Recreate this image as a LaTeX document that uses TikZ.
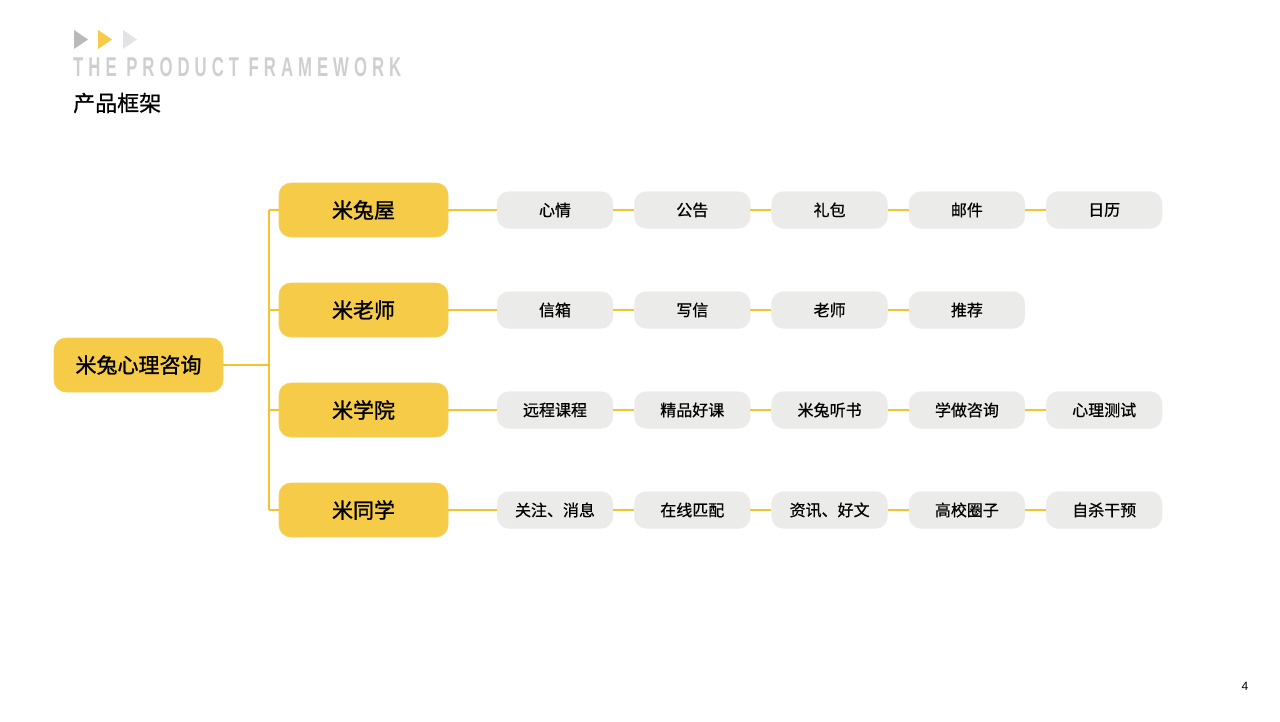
\documentclass[tikz,border=0pt]{standalone}
\usepackage{fontspec}
\usepackage{graphicx}
\newfontfamily\cjk{Noto Sans CJK SC}
\newfontfamily\cjkm[FakeBold=0.6]{Noto Sans CJK SC}
\newfontfamily\cjkb[FakeBold=1.3]{Noto Sans CJK SC}
\newfontfamily\latinb{Liberation Sans}
\newfontfamily\enfont[LetterSpace=30]{Liberation Sans}
\definecolor{myyellow}{HTML}{F5CB47}
\definecolor{linecol}{HTML}{F3C330}
\definecolor{leafgray}{HTML}{EBEBEA}
\definecolor{headgray}{HTML}{CFCFCF}
\tikzset{
  rootbox/.style={draw=linecol!80, line width=0.6pt, fill=myyellow, rounded corners=12pt, minimum width=169pt, minimum height=54pt, font=\cjkb\fontsize{21}{21}\selectfont, inner sep=0pt},
  leafbox/.style={fill=leafgray, draw=leafgray!90!black!40, line width=0.3pt, rounded corners=12pt, minimum width=116pt, minimum height=37pt, font=\cjkm\fontsize{16}{16}\selectfont, inner sep=0pt},
  link/.style={draw=linecol, line width=2pt}
}
\begin{document}
\begin{tikzpicture}[x=1pt,y=-1pt]
\useasboundingbox (0,0) rectangle (1280,721);
% header triangles
\fill[gray!55] (74,30) -- (88,39.5) -- (74,49) -- cycle;
\fill[myyellow] (98,30) -- (112,39.5) -- (98,49) -- cycle;
\fill[gray!22] (123,30) -- (137,39.5) -- (123,49) -- cycle;
\node[anchor=west, inner sep=0pt, text=headgray] (en) at (73,67.5) {\resizebox{328pt}{19pt}{\enfont\bfseries THE PRODUCT FRAMEWORK}};
\node[anchor=west, inner sep=0pt, font=\cjkm\fontsize{22}{22}\selectfont] (cn) at (73,103) {产品框架};
\node[inner sep=0pt, font=\latinb\fontsize{12}{12}\selectfont] (pg) at (1245,686) {4};
% root and level 1
\node[rootbox] (root) at (138.5,365) {米兔心理咨询};
\node[rootbox] (a) at (363.5,210) {米兔屋};
\node[rootbox] (b) at (363.5,310) {米老师};
\node[rootbox] (c) at (363.5,410) {米学院};
\node[rootbox] (d) at (363.5,510) {米同学};
\coordinate (bus) at (269,365);
\coordinate (bt) at (269,210);
\coordinate (bb) at (269,510);
\coordinate (bm1) at (269,310);
\coordinate (bm2) at (269,410);
\draw[link] (root.east) -- (bus);
\draw[link] (bt) -- (bb);
\draw[link] (bt) -- (a.west);
\draw[link] (bm1) -- (b.west);
\draw[link] (bm2) -- (c.west);
\draw[link] (bb) -- (d.west);
% leaves
\foreach \r/\y/\list in {a/210/{心情,公告,礼包,邮件,日历}, b/310/{信箱,写信,老师,推荐}, c/410/{远程课程,精品好课,米兔听书,学做咨询,心理测试}, d/510/{关注、消息,在线匹配,资讯、好文,高校圈子,自杀干预}}{
  \foreach \t [count=\i] in \list {
    \pgfmathsetmacro{\xx}{555+137.3*(\i-1)}
    \node[leafbox] (\r\i) at (\xx,\y) {\t};
  }
}
\draw[link] (a.east) -- (a1.west);
\draw[link] (a1.east) -- (a2.west);
\draw[link] (a2.east) -- (a3.west);
\draw[link] (a3.east) -- (a4.west);
\draw[link] (a4.east) -- (a5.west);
\draw[link] (b.east) -- (b1.west);
\draw[link] (b1.east) -- (b2.west);
\draw[link] (b2.east) -- (b3.west);
\draw[link] (b3.east) -- (b4.west);
\draw[link] (c.east) -- (c1.west);
\draw[link] (c1.east) -- (c2.west);
\draw[link] (c2.east) -- (c3.west);
\draw[link] (c3.east) -- (c4.west);
\draw[link] (c4.east) -- (c5.west);
\draw[link] (d.east) -- (d1.west);
\draw[link] (d1.east) -- (d2.west);
\draw[link] (d2.east) -- (d3.west);
\draw[link] (d3.east) -- (d4.west);
\draw[link] (d4.east) -- (d5.west);
\end{tikzpicture}
\end{document}
